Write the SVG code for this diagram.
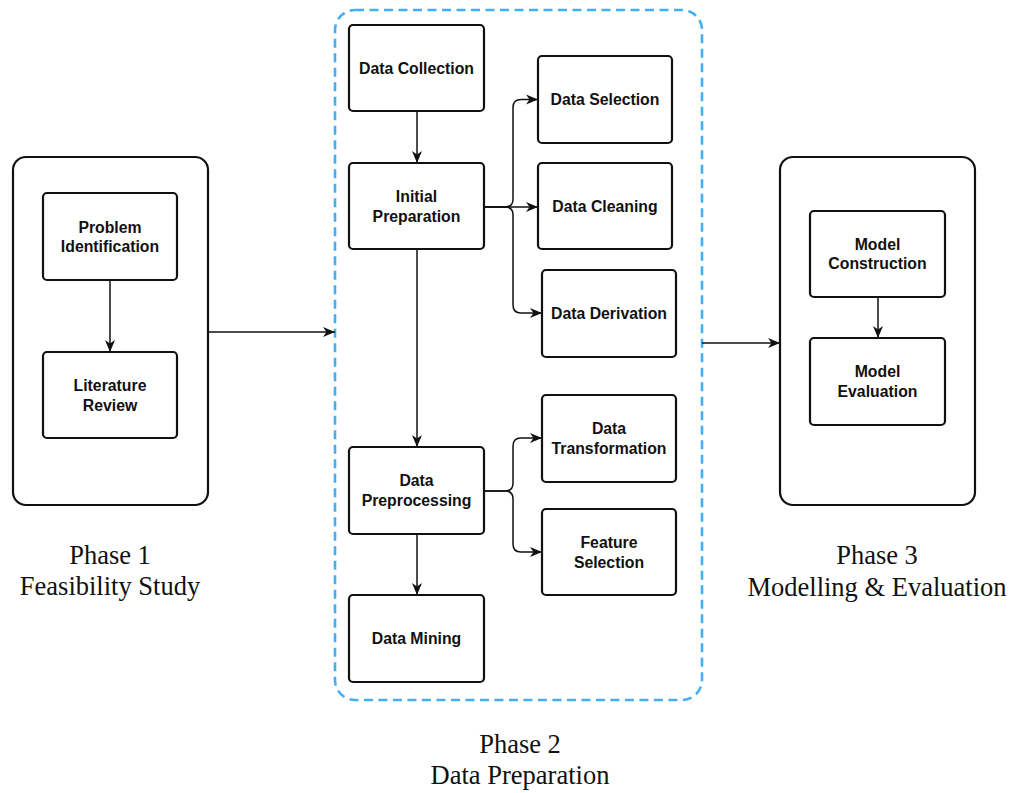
<svg xmlns="http://www.w3.org/2000/svg" width="1011" height="793" viewBox="0 0 1011 793">
<style>
  .box{fill:#fff;stroke:#111;stroke-width:2.2}
  .outer{fill:#fff;stroke:#111;stroke-width:2.2}
  .dash{fill:none;stroke:#45aef2;stroke-width:2.6;stroke-dasharray:9 5.5}
  .lbl{font-family:"Liberation Sans",Arial,sans-serif;font-weight:bold;font-size:15.8px;fill:#111;text-anchor:middle}
  .phase{font-family:"Liberation Serif","Times New Roman",serif;font-size:26.5px;fill:#111;text-anchor:middle}
  .conn path{fill:none;stroke:#111;stroke-width:1.5;marker-end:url(#arr)}
</style>
<defs>
  <marker id="arr" markerUnits="userSpaceOnUse" markerWidth="14" markerHeight="12" refX="12" refY="6" orient="auto">
    <path d="M0,1 L12,6 L0,11 L3.5,6 z" fill="#111"/>
  </marker>
</defs>

<g id="phase1">
  <rect class="outer" x="13" y="157" width="195" height="348" rx="13"/>
  <text class="phase" x="110" y="564">Phase 1</text>
  <text class="phase" x="110" y="595">Feasibility Study</text>
</g>
<g id="phase2">
  <rect class="dash" x="335" y="10" width="367" height="690" rx="20"/>
  <text class="phase" x="520" y="753">Phase 2</text>
  <text class="phase" x="520" y="784">Data Preparation</text>
</g>
<g id="phase3">
  <rect class="outer" x="780" y="157" width="195" height="348" rx="13"/>
  <text class="phase" x="877" y="564">Phase 3</text>
  <text class="phase" x="877" y="596">Modelling &amp; Evaluation</text>
</g>

<g class="conn" id="connectors">
  <path d="M110,280 V352"/>
  <path d="M208,332 H335"/>
  <path d="M417,111 V163"/>
  <path d="M417,249 V447"/>
  <path d="M417,534 V595"/>
  <path d="M484,207 H505 Q513,207 513,199 V107.5 Q513,99.5 521,99.5 H538"/>
  <path d="M484,207 H538"/>
  <path d="M484,207 H505 Q513,207 513,215 V305 Q513,313 521,313 H542"/>
  <path d="M484,491 H505 Q513,491 513,483 V446 Q513,438 521,438 H542"/>
  <path d="M484,491 H505 Q513,491 513,499 V544 Q513,552 521,552 H542"/>
  <path d="M702,343 H780"/>
  <path d="M878,297 V338"/>
</g>

<g id="problem-identification">
  <rect class="box" x="43" y="193" width="134" height="87" rx="4"/>
  <text class="lbl" x="110" y="232.5">Problem</text>
  <text class="lbl" x="110" y="252">Identification</text>
</g>
<g id="literature-review">
  <rect class="box" x="43" y="352" width="134" height="86" rx="4"/>
  <text class="lbl" x="110" y="391">Literature</text>
  <text class="lbl" x="110" y="410.5">Review</text>
</g>

<g id="data-collection">
  <rect class="box" x="349" y="25" width="135" height="86" rx="4"/>
  <text class="lbl" x="416.5" y="74">Data Collection</text>
</g>
<g id="initial-preparation">
  <rect class="box" x="349" y="163" width="135" height="86" rx="4"/>
  <text class="lbl" x="416.5" y="201.5">Initial</text>
  <text class="lbl" x="416.5" y="221.5">Preparation</text>
</g>
<g id="data-selection">
  <rect class="box" x="538" y="56" width="134" height="87" rx="4"/>
  <text class="lbl" x="605" y="105">Data Selection</text>
</g>
<g id="data-cleaning">
  <rect class="box" x="538" y="163" width="134" height="86" rx="4"/>
  <text class="lbl" x="605" y="211.5">Data Cleaning</text>
</g>
<g id="data-derivation">
  <rect class="box" x="542" y="270" width="134" height="87" rx="4"/>
  <text class="lbl" x="609" y="318.5">Data Derivation</text>
</g>
<g id="data-transformation">
  <rect class="box" x="542" y="395" width="134" height="87" rx="4"/>
  <text class="lbl" x="609" y="434">Data</text>
  <text class="lbl" x="609" y="453.5">Transformation</text>
</g>
<g id="data-preprocessing">
  <rect class="box" x="349" y="447" width="135" height="87" rx="4"/>
  <text class="lbl" x="416.5" y="486">Data</text>
  <text class="lbl" x="416.5" y="505.5">Preprocessing</text>
</g>
<g id="feature-selection">
  <rect class="box" x="542" y="509" width="134" height="86" rx="4"/>
  <text class="lbl" x="609" y="548">Feature</text>
  <text class="lbl" x="609" y="567.5">Selection</text>
</g>
<g id="data-mining">
  <rect class="box" x="349" y="595" width="135" height="87" rx="4"/>
  <text class="lbl" x="416.5" y="644">Data Mining</text>
</g>

<g id="model-construction">
  <rect class="box" x="810" y="211" width="135" height="86" rx="4"/>
  <text class="lbl" x="877.5" y="249.5">Model</text>
  <text class="lbl" x="877.5" y="269">Construction</text>
</g>
<g id="model-evaluation">
  <rect class="box" x="810" y="338" width="135" height="87" rx="4"/>
  <text class="lbl" x="877.5" y="377">Model</text>
  <text class="lbl" x="877.5" y="396.5">Evaluation</text>
</g>
</svg>
